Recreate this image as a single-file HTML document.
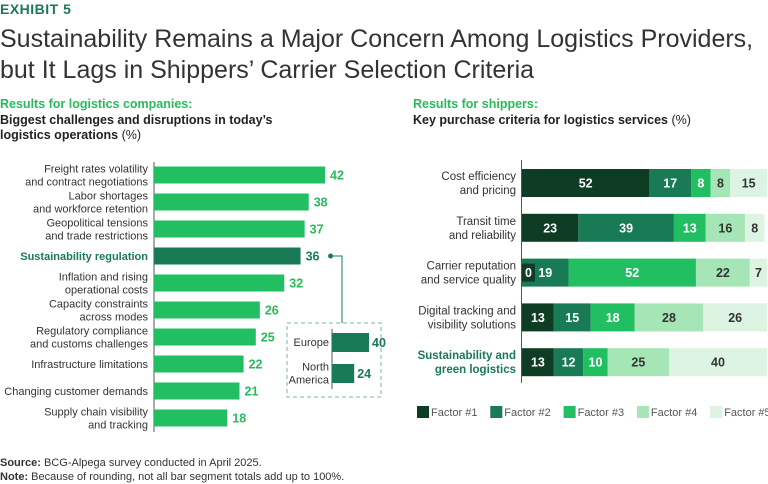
<!DOCTYPE html>
<html><head><meta charset="utf-8"><style>
body{margin:0;width:768px;height:484px;background:#fff;font-family:"Liberation Sans",sans-serif;overflow:hidden;position:relative}
.t{position:absolute;white-space:nowrap}
</style></head><body>
<div class="t" style="left:0;top:1px;font-size:14px;font-weight:bold;color:#197a56;letter-spacing:0.5px">EXHIBIT 5</div>
<div class="t" style="left:0;top:24px;font-size:25px;color:#333;line-height:31px">Sustainability Remains a Major Concern Among Logistics Providers,<br>but It Lags in Shippers’ Carrier Selection Criteria</div>
<div class="t" style="left:0;top:97px;font-size:12.5px;line-height:15px;font-weight:bold;color:#29ba5d">Results for logistics companies:</div>
<div class="t" style="left:0;top:113px;font-size:12.5px;line-height:15px;font-weight:bold;color:#222">Biggest challenges and disruptions in today’s<br>logistics operations <span style="font-weight:normal">(%)</span></div>
<div class="t" style="left:413px;top:97px;font-size:12.5px;line-height:15px;font-weight:bold;color:#29ba5d">Results for shippers:</div>
<div class="t" style="left:413px;top:113px;font-size:12.5px;line-height:15px;font-weight:bold;color:#222">Key purchase criteria for logistics services <span style="font-weight:normal">(%)</span></div>
<div class="t" style="left:0;top:456px;font-size:11px;line-height:14px;color:#333"><b>Source:</b> BCG-Alpega survey conducted in April 2025.<br><b>Note:</b> Because of rounding, not all bar segment totals add up to 100%.</div>
<svg id="c" width="768" height="484" style="position:absolute;left:0;top:0" font-family="Liberation Sans, sans-serif"></svg>
<script>
const leftCats=[["Freight rates volatility","and contract negotiations"],["Labor shortages","and workforce retention"],["Geopolitical tensions","and trade restrictions"],["Sustainability regulation"],["Inflation and rising","operational costs"],["Capacity constraints","across modes"],["Regulatory compliance","and customs challenges"],["Infrastructure limitations"],["Changing customer demands"],["Supply chain visibility","and tracking"]];
const leftVals=[42,38,37,36,32,26,25,22,21,18];
const insetCats=[["Europe"],["North","America"]];
const insetVals=[40,24];
const rightCats=[["Cost efficiency","and pricing"],["Transit time","and reliability"],["Carrier reputation","and service quality"],["Digital tracking and","visibility solutions"],["Sustainability and","green logistics"]];
const f1=[52,23,0,13,13];
const f2=[17,39,19,15,12];
const f3=[8,13,52,18,10];
const f4=[8,16,22,28,25];
const f5=[15,8,7,26,40];
const legendLabels=["Factor #1","Factor #2","Factor #3","Factor #4","Factor #5"];
const colors=["#0e3d24","#197a56","#21bf61","#a6e5b5","#dcf4e1"];
const textCols=["#fff","#fff","#fff","#333","#333"];
const svg=document.getElementById('c');const NS="http://www.w3.org/2000/svg";
function mk(t,a,txt){const e=document.createElementNS(NS,t);for(const k in a)e.setAttribute(k,a[k]);if(txt!=null)e.textContent=txt;svg.appendChild(e);return e;}
// left chart
const lx0=154,lsc=171/42,ly=i=>166.5+i*27,lbh=17;
let e=mk('line',{x1:lx0,y1:162,x2:lx0,y2:432,stroke:'#555','stroke-width':1});

leftVals.forEach((v,i)=>{
 const hl=i===3;
 let r=mk('rect',{x:lx0,y:ly(i),width:v*lsc,height:lbh,fill:hl?'#197a56':'#21bf61'});
 
 let t=mk('text',{x:lx0+v*lsc+5,y:ly(i)+13,'font-size':12.5,'font-weight':'bold',fill:hl?'#197a56':'#29ba5d'},v);
 
 const L=leftCats[i];
 L.forEach((s,j)=>{let tt=mk('text',{x:lx0-6,y:ly(i)+8.5+(j-(L.length-1)/2)*13+4,'text-anchor':'end','font-size':11,fill:hl?'#197a56':'#333','font-weight':hl?'bold':'normal'},s);
 });
});
// connector + inset
const dotX=lx0+leftVals[3]*lsc+30;
e=mk('circle',{cx:dotX,cy:ly(3)+8.5,r:2.5,fill:'#197a56'});
e=mk('polyline',{points:`${dotX},${ly(3)+8.5} 342,${ly(3)+8.5} 342,323`,fill:'none',stroke:'#197a56','stroke-width':1});
e=mk('rect',{x:287,y:323,width:94,height:74,fill:'none',stroke:'#7fb39d','stroke-dasharray':'4 3'});
const ix0=332,isc=37/40,iy=i=>333+i*31;
e=mk('line',{x1:ix0,y1:329,x2:ix0,y2:389,stroke:'#555'});
insetVals.forEach((v,i)=>{
 let r=mk('rect',{x:ix0,y:iy(i),width:v*isc,height:19,fill:'#197a56'});
 let t=mk('text',{x:ix0+v*isc+3,y:iy(i)+14,'font-size':12.5,'font-weight':'bold',fill:'#197a56'},v);
 const L=insetCats[i];L.forEach((s,j)=>{let tt=mk('text',{x:ix0-3,y:iy(i)+13+(j-(L.length-1)/2)*13,'text-anchor':'end','font-size':11,fill:'#333'},s);});
});
// right chart
const rx0=522,rsc=245/100,ry=i=>169+i*44.8,rbh=28;
e=mk('line',{x1:rx0-0.5,y1:160,x2:rx0-0.5,y2:383,stroke:'#555'});
const series=[f1,f2,f3,f4,f5];
const zeros=[];
rightCats.forEach((L,i)=>{
 let x=rx0;
 series.forEach((s,k)=>{
  const w=s[i]*rsc;
  let r=mk('rect',{x:x,y:ry(i),width:w,height:rbh,fill:colors[k]});
  if(s[i]===0){zeros.push([x,i,k]);}
  else{let t=mk('text',{x:x+w/2,y:ry(i)+18.5,'text-anchor':'middle','font-size':12.5,'font-weight':'bold',fill:textCols[k]},s[i]);
  }
  x+=w;
 });
 const hl=i===4;
 L.forEach((s,j)=>{let tt=mk('text',{x:rx0-6,y:ry(i)+14+(j-0.5)*14+4,'text-anchor':'end','font-size':11.5,fill:hl?'#197a56':'#333','font-weight':hl?'bold':'normal'},s);});
});
zeros.forEach(([x,i,k])=>{
 let b=mk('rect',{x:x,y:ry(i)+5,width:13,height:18,fill:colors[k]});
 let t=mk('text',{x:x+6.5,y:ry(i)+18.5,'text-anchor':'middle','font-size':12.5,'font-weight':'bold',fill:textCols[k]},series[k][i]);
 
});
legendLabels.forEach((s,k)=>{
 const x=417+k*73.3;
 let r=mk('rect',{x:x,y:406,width:12,height:12,fill:colors[k]});
 let t=mk('text',{x:x+14,y:416,'font-size':11,fill:'#555'},s);
});
</script>
</body></html>
